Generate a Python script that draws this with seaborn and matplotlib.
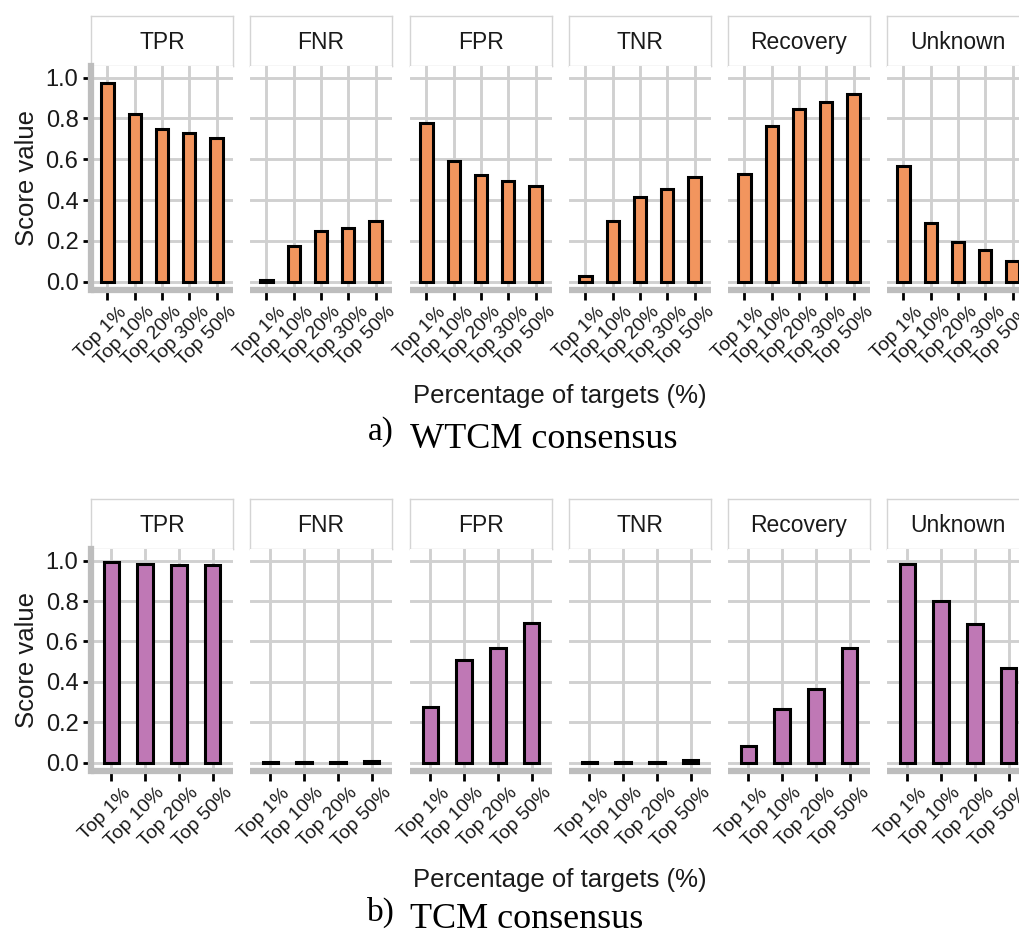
import matplotlib
matplotlib.use("Agg")
import matplotlib.pyplot as plt
import matplotlib.transforms as mtransforms
import seaborn as sns
import pandas as pd

sns.set_theme(style="white")
plt.rcParams['font.family'] = ['Liberation Sans', 'DejaVu Sans']

# ---------------- data ----------------
metrics = ["TPR", "FNR", "FPR", "TNR", "Recovery", "Unknown"]

wtcm_cats = ["Top 1%", "Top 10%", "Top 20%", "Top 30%", "Top 50%"]
wtcm_tpr = [0.975, 0.82, 0.75, 0.73, 0.705]
wtcm_fnr = [0.01, 0.176, 0.247, 0.266, 0.299]
wtcm_fpr = [0.78, 0.59, 0.525, 0.495, 0.47]
wtcm_tnr = [0.03, 0.30, 0.415, 0.455, 0.515]
wtcm_recovery = [0.53, 0.765, 0.845, 0.88, 0.92]
wtcm_unknown = [0.565, 0.29, 0.195, 0.157, 0.10]

tcm_cats = ["Top 1%", "Top 10%", "Top 20%", "Top 50%"]
tcm_tpr = [0.995, 0.985, 0.977, 0.977]
tcm_fnr = [0.003, 0.003, 0.003, 0.008]
tcm_fpr = [0.275, 0.507, 0.566, 0.689]
tcm_tnr = [0.003, 0.003, 0.003, 0.012]
tcm_recovery = [0.082, 0.264, 0.366, 0.569]
tcm_unknown = [0.985, 0.80, 0.685, 0.47]

wtcm_vals = [wtcm_tpr, wtcm_fnr, wtcm_fpr, wtcm_tnr, wtcm_recovery, wtcm_unknown]
tcm_vals = [tcm_tpr, tcm_fnr, tcm_fpr, tcm_tnr, tcm_recovery, tcm_unknown]

W, H = 1020, 942
fig = plt.figure(figsize=(W / 100, H / 100), dpi=100)

def box(x0, y0, x1, y1):
    return [x0 / W, 1 - y1 / H, (x1 - x0) / W, (y1 - y0) / H]

panel_x = [91, 250, 410, 569, 728, 887]
panel_w = 142
GRID = "#d0d0d0"
AXG = "#bdbdbd"
TXT = "#1a1a1a"
label_shift = mtransforms.ScaledTranslation(11 / 100, 3 / 100, fig.dpi_scale_trans)

def draw_block(cats, vals, color, strip_top, panel_top, panel_bot, xlab_y, cap_letter, cap_text, cap_y):
    n = len(cats)
    for i, (m, v) in enumerate(zip(metrics, vals)):
        x0 = panel_x[i]
        # strip
        sax = fig.add_axes(box(x0, strip_top, x0 + panel_w, panel_top))
        sax.set_xticks([]); sax.set_yticks([])
        sax.set_facecolor("white")
        for s in sax.spines.values():
            s.set_color("#d4d4d4"); s.set_linewidth(1.0)
        sax.text(0.5, 0.47, m, ha="center", va="center", fontsize=16.5, color=TXT,
                 transform=sax.transAxes)
        # panel
        ax = fig.add_axes(box(x0, panel_top, x0 + panel_w, panel_bot))
        df = pd.DataFrame({"cat": cats, "val": v})
        sns.barplot(data=df, x="cat", y="val", order=cats, color=color, saturation=1,
                    edgecolor="black", linewidth=2.2, width=0.45, ax=ax, zorder=3)
        ax.set_xlim(-0.6, n - 0.4)
        ax.set_ylim(-0.04, 1.057)
        ax.set_yticks([0, 0.2, 0.4, 0.6, 0.8, 1.0])
        ax.set_xlabel(""); ax.set_ylabel("")
        ax.set_axisbelow(True)
        ax.grid(True, color=GRID, linewidth=2.1)
        for s in ["top", "right"]:
            ax.spines[s].set_visible(False)
        ax.spines["bottom"].set_color(AXG)
        ax.spines["bottom"].set_linewidth(4.5)
        ax.spines["bottom"].set_capstyle("butt")
        if i == 0:
            ax.spines["left"].set_color(AXG)
            ax.spines["left"].set_linewidth(4.5)
            ax.set_yticklabels(["0.0", "0.2", "0.4", "0.6", "0.8", "1.0"])
            ax.tick_params(axis="y", length=6, width=2, color="black", labelsize=17,
                           labelcolor=TXT, pad=3, left=True)
        else:
            ax.spines["left"].set_visible(False)
            ax.tick_params(axis="y", left=False, labelleft=False)
        ax.tick_params(axis="x", length=7, width=2, color="black", labelsize=14,
                       labelcolor=TXT, pad=5, bottom=True)
        ax.set_xticks(range(n))
        ax.set_xticklabels(cats, rotation=45, ha="right", rotation_mode="anchor")
        for lbl in ax.get_xticklabels():
            lbl.set_transform(lbl.get_transform() + label_shift)
        if i == 0:
            ax.set_ylabel("Score value", fontsize=18.5, color=TXT, labelpad=5)
    fig.text(560 / W, 1 - xlab_y / H, "Percentage of targets (%)", ha="center", va="center",
             fontsize=18.5, color=TXT)
    fig.text(381 / W, 1 - (cap_y - 8) / H, cap_letter, ha="center", va="center",
             fontsize=24, family=["Liberation Serif", "DejaVu Serif"], color="black")
    fig.text(410 / W, 1 - cap_y / H, cap_text, ha="left", va="center",
             fontsize=26, family=["Liberation Serif", "DejaVu Serif"], color="black")

draw_block(wtcm_cats, wtcm_vals, "#F2955E", 16, 66, 290, 396, "a)", "WTCM consensus", 440)
draw_block(tcm_cats, tcm_vals, "#BF78B5", 499, 549, 771, 880, "b)", "TCM consensus", 920)

fig.savefig("out.png", dpi=100)
